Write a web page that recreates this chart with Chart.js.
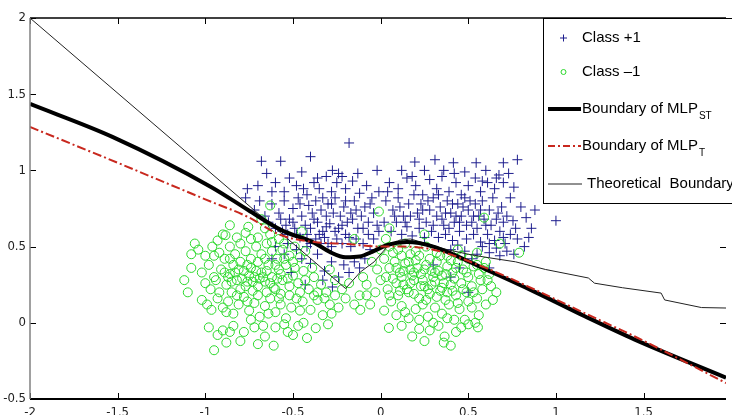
<!DOCTYPE html>
<html>
<head>
<meta charset="utf-8">
<script src="https://cdn.jsdelivr.net/npm/chart.js@4/dist/chart.umd.min.js"></script>
<style>
  html, body { margin: 0; padding: 0; background: #fff; }
  #wrap { width: 732px; height: 415px; }
</style>
</head>
<body>
<div id="wrap"><canvas id="out" width="732" height="415"></canvas></div>
<script>
// tick labels
const xTicks = [-2, -1.5, -1, -0.5, 0, 0.5, 1, 1.5];
const yTicks = [-0.5, 0, 0.5, 1, 1.5, 2];

// legend texts
const legendNames = ['Class +1', 'Class \u20131', 'Boundary of MLP', 'Boundary of MLP', 'Theoretical  Boundary'];
const legendSubs = ['', '', 'ST', 'T', ''];

// boundaries
const stX = [-2, -1.53, -0.965, -0.756, -0.569, -0.377, -0.29, -0.20, -0.12, -0.04, 0.036, 0.15, 0.30, 0.60, 0.885, 1.17, 1.45, 1.97];
const stY = [1.436, 1.22, 0.89, 0.74, 0.61, 0.524, 0.465, 0.43, 0.435, 0.47, 0.51, 0.53, 0.50, 0.35, 0.20, 0.04, -0.11, -0.36];

const tX = [-2, -1.5, -1.0, -0.756, -0.57, -0.377, -0.19, 0, 0.13, 0.30, 0.60, 0.885, 1.17, 1.45, 1.97];
const tY = [1.285, 1.05, 0.81, 0.694, 0.576, 0.53, 0.517, 0.50, 0.50, 0.48, 0.36, 0.215, 0.06, -0.09, -0.395];

const thX = [-2, -0.20, -0.116, -0.037, 0.036, 0.11, 0.17, 0.38, 0.50, 0.60, 0.77, 0.94, 1.185, 1.22, 1.38, 1.60, 1.62, 1.83, 1.97];
const thY = [2, 0.225, 0.333, 0.40, 0.497, 0.543, 0.55, 0.48, 0.45, 0.43, 0.40, 0.35, 0.294, 0.26, 0.23, 0.195, 0.15, 0.10, 0.097];

// Class +1 samples
const classPlus = [
  [-0.68,1.06],[-0.57,1.06],[-0.40,1.09],[-0.18,1.18],[-0.275,1.0],[-0.24,0.98],[-0.13,0.98],[-0.02,1.0],
  [-0.76,0.88],[-0.77,0.82],[-0.69,0.80],[-0.72,0.74],[-0.66,0.70],[-0.60,0.92],[-0.55,0.86],[-0.52,0.95],
  [-0.48,0.90],[-0.45,0.99],[-0.42,0.84],[-0.38,0.92],[-0.35,0.88],[-0.31,0.96],[-0.28,0.86],[-0.25,0.92],
  [-0.20,0.88],[-0.16,0.93],[-0.12,0.85],[-0.08,0.90],[-0.05,0.82],[-0.01,0.86],
  [-0.62,0.78],[-0.58,0.72],[-0.55,0.80],[-0.52,0.68],[-0.50,0.75],[-0.47,0.82],[-0.45,0.70],[-0.43,0.64],
  [-0.41,0.77],[-0.39,0.72],[-0.37,0.80],[-0.36,0.66],[-0.34,0.74],[-0.33,0.60],[-0.31,0.70],[-0.30,0.78],
  [-0.29,0.65],[-0.27,0.72],[-0.26,0.82],[-0.24,0.62],[-0.23,0.70],[-0.21,0.76],[-0.19,0.66],[-0.17,0.72],
  [-0.15,0.80],[-0.13,0.62],[-0.11,0.70],[-0.09,0.76],[-0.07,0.66],[-0.04,0.72],[-0.02,0.64],
  [-0.64,0.66],[-0.60,0.62],[-0.56,0.60],[-0.53,0.58],[-0.49,0.62],[-0.46,0.56],[-0.42,0.58],[-0.40,0.52],
  [-0.37,0.55],[-0.34,0.52],[-0.32,0.56],[-0.28,0.50],[-0.25,0.55],[-0.22,0.52],[-0.20,0.58],[-0.17,0.50],
  [-0.14,0.55],[-0.10,0.52],[-0.07,0.58],[-0.04,0.55],[-0.01,0.60],
  [-0.51,0.33],[-0.45,0.42],[-0.40,0.39],[-0.36,0.45],[-0.32,0.34],[-0.28,0.40],[-0.275,0.235],[-0.24,0.30],
  [-0.21,0.38],[-0.18,0.33],[-0.15,0.40],[-0.12,0.36],[-0.09,0.42],[-0.55,0.45],[-0.60,0.50],[-0.43,0.25],
  [-0.33,0.28],[-0.06,0.48],[-0.62,0.42],[-0.48,0.48],
  [-0.46,0.78],[-0.44,0.88],[-0.40,0.62],[-0.38,0.68],[-0.35,0.58],[-0.33,0.82],[-0.31,0.63],[-0.28,0.78],
  [-0.26,0.60],[-0.22,0.64],[-0.20,0.80],[-0.18,0.56],[-0.16,0.68],[-0.14,0.74],[-0.10,0.62],[-0.06,0.78],
  [-0.50,0.66],[-0.54,0.64],[-0.57,0.68],[-0.48,0.58],[-0.36,0.95],[-0.22,0.96],[-0.62,0.86],[-0.70,0.90],
  [-0.65,0.98],[-0.30,0.52],[-0.42,0.50],[-0.53,0.52],
  [0.195,1.055],[0.31,1.07],[0.415,1.05],[0.545,1.05],[0.70,1.05],[0.78,1.07],[0.12,1.0],[0.25,1.0],
  [0.36,1.0],[0.48,0.99],[0.60,1.0],[0.675,0.97],
  [0.05,0.92],[0.10,0.88],[0.15,0.95],[0.20,0.90],[0.24,0.84],[0.28,0.94],[0.32,0.88],[0.35,0.96],
  [0.39,0.86],[0.43,0.92],[0.46,0.84],[0.50,0.90],[0.54,0.95],[0.57,0.86],[0.61,0.92],[0.65,0.88],
  [0.70,0.92],[0.76,0.89],[0.74,0.82],
  [0.03,0.80],[0.07,0.74],[0.10,0.82],[0.13,0.70],[0.16,0.78],[0.19,0.84],[0.21,0.72],[0.23,0.78],
  [0.26,0.66],[0.28,0.74],[0.30,0.82],[0.32,0.70],[0.34,0.76],[0.36,0.64],[0.38,0.80],[0.40,0.72],
  [0.42,0.66],[0.44,0.78],[0.46,0.70],[0.48,0.82],[0.50,0.74],[0.52,0.66],[0.54,0.78],[0.56,0.70],
  [0.58,0.80],[0.60,0.64],[0.62,0.74],[0.64,0.82],[0.66,0.68],[0.69,0.76],[0.72,0.70],[0.755,0.67],
  [0.83,0.69],[0.80,0.76],
  [0.02,0.66],[0.06,0.60],[0.09,0.66],[0.12,0.58],[0.15,0.63],[0.18,0.57],[0.22,0.62],[0.25,0.56],
  [0.29,0.60],[0.33,0.56],[0.37,0.58],[0.41,0.54],[0.45,0.60],[0.49,0.55],[0.53,0.58],[0.57,0.53],
  [0.61,0.58],[0.65,0.54],[0.68,0.60],[0.71,0.52],[0.74,0.58],[0.78,0.55],[0.845,0.56],[0.82,0.50],
  [0.40,0.48],[0.48,0.47],[0.55,0.45],[0.62,0.46],[0.68,0.44],[0.72,0.47],[0.76,0.45],[0.52,0.42],
  [0.58,0.50],[0.44,0.51],[0.66,0.49],
  [0.22,0.68],[0.24,0.74],[0.27,0.80],[0.30,0.64],[0.33,0.84],[0.35,0.68],[0.37,0.72],[0.39,0.62],
  [0.41,0.78],[0.43,0.70],[0.45,0.66],[0.47,0.76],[0.49,0.64],[0.51,0.80],[0.53,0.70],[0.55,0.62],
  [0.57,0.74],[0.59,0.68],[0.63,0.64],[0.67,0.72],[0.70,0.66],[0.08,0.70],[0.11,0.76],[0.14,0.66],
  [0.17,0.70],[0.04,0.86],[0.18,0.96],[0.42,0.98],[0.58,0.93],[0.66,0.95],[0.73,0.98],[0.62,0.52],
  [0.70,0.56],[0.77,0.62],[0.86,0.62],[0.88,0.74],
  [1.0,0.67],[0.40,0.30],[0.50,0.20],[0.30,0.38],[0.45,0.36],[0.62,0.36]
];

// Class -1 samples
const classMinus = [
  [-0.86,0.64],[-0.755,0.63],[-0.77,0.59],[-0.70,0.56],[-0.885,0.575],[-0.66,0.62],[-0.63,0.58],[-0.68,0.68],
  [-0.93,0.54],[-0.58,0.55],[-0.55,0.52],
  [-1.06,0.52],[-1.04,0.48],[-1.0,0.44],[-0.96,0.50],[-0.92,0.46],[-0.89,0.42],[-0.86,0.50],[-0.83,0.45],
  [-0.80,0.52],[-0.77,0.47],[-0.74,0.42],[-0.71,0.50],[-0.68,0.45],[-0.65,0.52],[-0.62,0.47],[-0.59,0.42],
  [-0.56,0.48],[-0.52,0.44],[-0.49,0.50],[-0.46,0.43],[-0.43,0.47],
  [-1.08,0.36],[-1.02,0.33],[-0.98,0.38],[-0.95,0.30],[-0.94,0.28],[-0.91,0.35],[-0.88,0.25],[-0.86,0.32],
  [-0.84,0.38],[-0.82,0.28],[-0.80,0.22],[-0.78,0.34],[-0.76,0.27],[-0.74,0.36],[-0.72,0.30],[-0.70,0.24],
  [-0.68,0.33],[-0.66,0.27],[-0.64,0.38],[-0.62,0.30],[-0.60,0.22],[-0.58,0.35],[-0.56,0.28],[-0.54,0.38],
  [-0.52,0.24],[-0.50,0.31],[-0.47,0.26],[-0.44,0.34],[-0.41,0.22],[-0.38,0.30],[-0.34,0.25],[-0.29,0.35],
  [-0.31,0.20],[-0.26,0.28],[-0.22,0.22],[-0.18,0.26],
  [-0.87,0.30],[-0.83,0.33],[-0.79,0.29],[-0.75,0.31],[-0.71,0.34],[-0.67,0.30],[-0.63,0.26],[-0.59,0.29],
  [-0.85,0.20],[-0.73,0.21],[-0.65,0.20],[-0.57,0.19],[-1.12,0.28],[-1.10,0.20],
  [-0.89,0.33],[-0.85,0.27],[-0.81,0.35],[-0.77,0.24],[-0.73,0.27],[-0.69,0.29],[-0.65,0.34],[-0.61,0.23],
  [-0.57,0.32],[-0.53,0.29],[-0.49,0.36],[-0.46,0.20],[-0.43,0.28],[-0.39,0.36],[-0.36,0.20],[-0.86,0.42],
  [-0.80,0.40],[-0.76,0.38],[-0.70,0.40],[-0.66,0.42],[-0.60,0.38],[-0.55,0.42],[-0.50,0.40],[-0.97,0.22],
  [-0.92,0.20],[-1.0,0.26],[-0.88,0.07],[-0.82,0.18],[-0.76,0.14],[-0.70,0.18],[-0.64,0.06],[-0.58,0.16],
  [-0.52,0.18],[-0.46,0.08],[-0.38,0.18],[-0.32,0.16],[-0.26,0.18],[-0.28,0.06],[-0.90,0.58],[-0.82,0.56],
  [-0.74,0.55],[-0.62,0.53],[-0.95,0.44],[-1.08,0.45],[-0.67,-0.02],[-0.74,0.02],[-0.86,-0.06],[-0.50,-0.08],
  [-0.44,0.00],
  [-1.02,0.15],[-0.99,0.12],[-0.965,0.085],[-0.93,0.16],[-0.90,0.10],[-0.87,0.14],[-0.84,0.06],[-0.81,0.12],
  [-0.78,0.17],[-0.75,0.08],[-0.72,0.13],[-0.69,0.04],[-0.66,0.11],[-0.63,0.16],[-0.60,0.07],[-0.57,0.12],
  [-0.54,0.03],[-0.51,0.10],[-0.48,0.16],[-0.445,0.14],[-0.40,0.085],[-0.36,0.15],[-0.33,0.05],[-0.29,0.12],
  [-0.24,0.10],[-0.20,0.16],[-0.15,0.12],[-0.12,0.18],
  [-0.98,-0.03],[-0.93,-0.08],[-0.90,-0.05],[-0.88,-0.13],[-0.95,-0.18],[-0.84,-0.02],[-0.78,-0.06],[-0.72,-0.03],
  [-0.66,-0.09],[-0.61,-0.15],[-0.60,-0.03],[-0.55,-0.01],[-0.53,-0.06],[-0.47,-0.02],[-0.42,-0.10],[-0.37,-0.035],
  [-0.30,-0.01],[-0.80,-0.12],[-0.70,-0.14],
  [0.05,0.50],[0.10,0.48],[0.14,0.52],[0.20,0.47],[0.26,0.50],[0.32,0.46],[0.38,0.44],[0.44,0.48],
  [0.50,0.42],[0.03,0.55],[0.55,0.46],[0.60,0.40],[0.17,0.45],
  [-0.05,0.40],[-0.02,0.35],[0.02,0.42],[0.05,0.36],[0.08,0.40],[0.11,0.33],[0.14,0.39],[0.17,0.35],
  [0.20,0.41],[0.23,0.32],[0.26,0.38],[0.29,0.34],[0.32,0.40],[0.35,0.31],[0.38,0.37],[0.41,0.33],
  [0.44,0.40],[0.47,0.35],[0.50,0.30],[0.53,0.37],[0.56,0.32],[0.59,0.36],[0.61,0.28],[0.66,0.20],
  [-0.08,0.25],[-0.03,0.20],[0.00,0.28],[0.04,0.22],[0.07,0.29],[0.10,0.18],[0.13,0.25],[0.16,0.20],
  [0.19,0.28],[0.22,0.16],[0.25,0.24],[0.28,0.19],[0.31,0.27],[0.34,0.21],[0.37,0.15],[0.40,0.25],
  [0.43,0.18],[0.46,0.26],[0.49,0.20],[0.52,0.24],[0.55,0.16],[0.58,0.22],[0.63,0.24],
  [0.12,0.30],[0.18,0.31],[0.24,0.28],[0.30,0.30],[0.36,0.26],[0.42,0.29],[0.15,0.22],[0.27,0.22],
  [0.33,0.34],[0.21,0.36],
  [0.07,0.46],[0.12,0.44],[0.16,0.40],[0.22,0.44],[0.28,0.42],[0.34,0.44],[0.40,0.41],[0.46,0.44],
  [0.09,0.36],[0.13,0.34],[0.19,0.33],[0.25,0.35],[0.31,0.33],[0.37,0.32],[0.43,0.36],[0.49,0.33],
  [0.55,0.38],[0.03,0.30],[0.09,0.26],[0.17,0.26],[0.23,0.24],[0.29,0.25],[0.35,0.23],[0.41,0.21],
  [0.47,0.22],[0.53,0.20],[0.05,0.18],[0.11,0.21],[0.19,0.19],[0.26,0.15],[0.32,0.17],[0.38,0.20],
  [0.44,0.13],[0.50,0.14],[0.57,0.28],[0.14,0.07],[0.22,0.02],[0.30,0.00],[0.38,0.03],[0.46,-0.03],
  [0.54,0.00],[-0.10,0.30],[-0.08,0.18],[0.00,0.48],[0.62,0.32],[0.64,0.15],
  [-0.116,0.085],[-0.06,0.12],[0.02,0.08],[0.06,0.14],[0.09,0.05],[0.12,0.11],[0.16,0.03],[0.20,0.09],
  [0.24,0.12],[0.27,0.04],[0.31,0.10],[0.35,0.06],[0.39,0.12],[0.42,0.02],[0.45,0.09],[0.48,0.02],
  [0.52,0.10],[0.56,0.05],[0.60,0.12],
  [0.047,-0.034],[0.18,-0.09],[0.365,-0.09],[0.36,-0.13],[0.28,-0.05],[0.555,-0.03],[0.12,-0.02],[0.22,-0.04],
  [0.43,-0.06],[0.50,-0.01],[0.33,-0.02],[0.25,-0.12],[0.40,-0.15],
  [-0.63,0.77],[-0.01,0.73],[0.59,0.69],[0.79,0.46],[-0.45,0.60],[0.05,0.62],[0.68,0.52],[-0.15,0.55],
  [0.25,0.58]
];

const plusColor = '#1e1e8e';
const minusColor = '#2cd82c';
const tickFont = { family: "'Liberation Sans Narrow', 'DejaVu Sans Condensed', 'Liberation Sans', sans-serif", size: 13 };

function pts(xs, ys) {
  return xs.map((x, i) => ({ x: x, y: ys[i] }));
}

function seg(ctx, x1, y1, x2, y2) {
  ctx.beginPath();
  ctx.moveTo(x1, y1);
  ctx.lineTo(x2, y2);
  ctx.stroke();
}

// MATLAB-like frame with inward ticks, plus the legend box
const framePlugin = {
  id: 'frame',
  afterDatasetsDraw(chart) {
    const { ctx, chartArea: a, scales: { x, y } } = chart;
    ctx.save();
    ctx.strokeStyle = '#000';
    ctx.lineWidth = 1;
    xTicks.forEach(v => {
      const px = Math.round(x.getPixelForValue(v)) + 0.5;
      seg(ctx, px, a.bottom, px, a.bottom - 6);
      seg(ctx, px, a.top, px, a.top + 6);
    });
    yTicks.forEach(v => {
      const py = Math.round(y.getPixelForValue(v)) + 0.5;
      seg(ctx, a.left, py, a.left + 6, py);
      seg(ctx, a.right, py, a.right - 6, py);
    });
    ctx.lineWidth = 1.5;
    seg(ctx, a.left, a.top, a.right, a.top);
    ctx.lineWidth = 2;
    seg(ctx, a.left, a.bottom, a.right, a.bottom);
    ctx.strokeStyle = '#808080';
    ctx.lineWidth = 1.5;
    seg(ctx, a.left, a.top, a.left, a.bottom);
    ctx.restore();
  },
  afterDraw(chart) {
    const ctx = chart.ctx;
    ctx.save();
    ctx.fillStyle = '#fff';
    ctx.fillRect(543, 18, 200, 185);
    ctx.strokeStyle = '#000';
    ctx.lineWidth = 1;
    ctx.strokeRect(543.5, 18.5, 200, 185);

    const rows = [38, 72, 109, 146, 184];
    // markers and line samples
    ctx.strokeStyle = plusColor;
    seg(ctx, 560, rows[0], 567, rows[0]);
    seg(ctx, 563.5, rows[0] - 3.5, 563.5, rows[0] + 3.5);
    ctx.strokeStyle = minusColor;
    ctx.beginPath();
    ctx.arc(563.5, rows[1], 2.5, 0, Math.PI * 2);
    ctx.stroke();
    ctx.strokeStyle = '#000';
    ctx.lineWidth = 4;
    seg(ctx, 548, rows[2], 581, rows[2]);
    ctx.strokeStyle = '#c8281e';
    ctx.lineWidth = 2;
    ctx.setLineDash([7, 3, 2, 3]);
    seg(ctx, 548, rows[3], 581, rows[3]);
    ctx.setLineDash([]);
    ctx.strokeStyle = '#222';
    ctx.lineWidth = 1;
    seg(ctx, 548, rows[4], 582, rows[4]);

    ctx.fillStyle = '#000';
    ctx.textBaseline = 'middle';
    const xs = [582, 582, 582, 582, 587];
    legendNames.forEach((t, i) => {
      ctx.font = "15px 'Liberation Sans', Arial, sans-serif";
      ctx.fillText(t, xs[i], rows[i]);
      if (legendSubs[i]) {
        const w = ctx.measureText(t).width;
        ctx.font = "10px 'Liberation Sans Narrow', 'Liberation Sans', sans-serif";
        ctx.fillText(legendSubs[i], xs[i] + w + 1, rows[i] + 7);
      }
    });
    ctx.restore();
  }
};

const canvasCtx = document.getElementById('out').getContext('2d');

const chartConfig = {
  type: 'scatter',
  data: {
    datasets: [
      {
        label: 'Boundary of MLP_T',
        data: pts(tX, tY),
        showLine: true,
        borderColor: '#c8281e',
        borderWidth: 2,
        borderDash: [9, 3, 2, 3],
        pointRadius: 0,
        cubicInterpolationMode: 'monotone',
        order: 0
      },
      {
        label: 'Boundary of MLP_ST',
        data: pts(stX, stY),
        showLine: true,
        borderColor: '#000',
        borderWidth: 4,
        pointRadius: 0,
        cubicInterpolationMode: 'monotone',
        order: 1
      },
      {
        label: 'Theoretical Boundary',
        data: pts(thX, thY),
        showLine: true,
        borderColor: '#222',
        borderWidth: 1,
        pointRadius: 0,
        tension: 0,
        order: 2
      },
      {
        label: 'Class -1',
        data: classMinus.map(p => ({ x: p[0], y: p[1] })),
        pointStyle: 'circle',
        pointRadius: 4.5,
        borderColor: minusColor,
        backgroundColor: 'rgba(0,0,0,0)',
        borderWidth: 1,
        order: 3
      },
      {
        label: 'Class +1',
        data: classPlus.map(p => ({ x: p[0], y: p[1] })),
        pointStyle: 'cross',
        pointRadius: 5,
        borderColor: plusColor,
        borderWidth: 1,
        order: 4
      }
    ]
  },
  options: {
    responsive: false,
    animation: false,
    events: [],
    layout: { padding: { top: 18, right: 0, left: 0, bottom: 0 } },
    plugins: { legend: { display: false }, tooltip: { enabled: false } },
    scales: {
      x: {
        type: 'linear',
        min: -2,
        max: 1.97,
        grid: { display: false, drawTicks: false },
        border: { display: false },
        ticks: { font: tickFont, color: '#222', padding: 6, maxRotation: 0, autoSkip: false, callback: v => String(v) },
        afterBuildTicks: s => { s.ticks = xTicks.map(v => ({ value: v })); },
        afterFit: s => { s.height = 16; }
      },
      y: {
        type: 'linear',
        min: -0.5,
        max: 2,
        grid: { display: false, drawTicks: false },
        border: { display: false },
        ticks: { font: tickFont, color: '#222', padding: 4, autoSkip: false, callback: v => String(v) },
        afterBuildTicks: s => { s.ticks = yTicks.map(v => ({ value: v })); },
        afterFit: s => { s.width = 30; }
      }
    }
  },
  plugins: [framePlugin]
};

window.chart = new Chart(canvasCtx, chartConfig);
</script>
</body>
</html>
